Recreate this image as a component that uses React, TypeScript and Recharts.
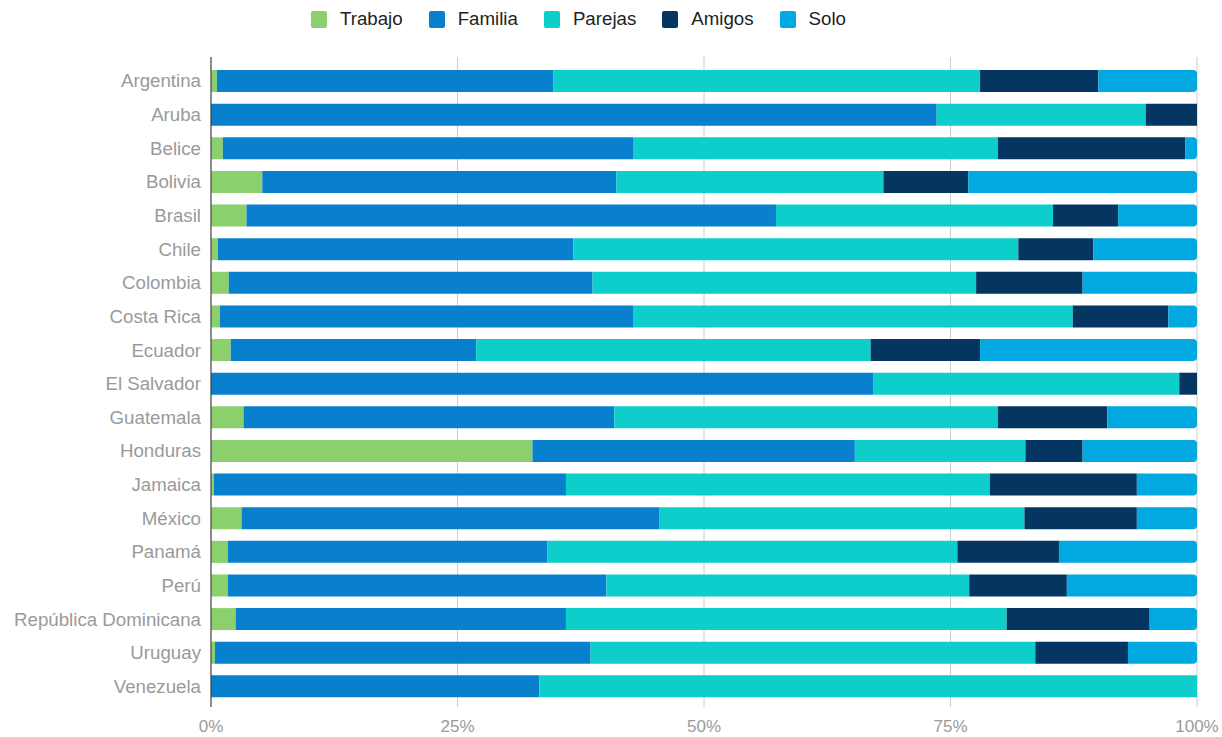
import { BarChart, Bar, XAxis, YAxis, CartesianGrid, Legend } from "recharts"

const countries = [
  "Argentina", "Aruba", "Belice", "Bolivia", "Brasil", "Chile", "Colombia", "Costa Rica",
  "Ecuador", "El Salvador", "Guatemala", "Honduras", "Jamaica", "México", "Panamá", "Perú",
  "República Dominicana", "Uruguay", "Venezuela",
]

const trabajo = [0.6, 0, 1.2, 5.2, 3.6, 0.7, 1.8, 0.9, 2.0, 0, 3.3, 32.6, 0.3, 3.1, 1.7, 1.7, 2.5, 0.4, 0]
const familia = [34.1, 73.6, 41.6, 35.9, 53.7, 36.0, 36.9, 41.9, 24.9, 67.2, 37.6, 32.7, 35.7, 42.4, 32.4, 38.4, 33.5, 38.1, 33.3]
const parejas = [43.3, 21.2, 37.0, 27.1, 28.1, 45.1, 38.9, 44.6, 40.0, 31.0, 38.9, 17.3, 43.0, 37.0, 41.6, 36.8, 44.7, 45.1, 66.7]
const amigos = [12.0, 5.2, 19.0, 8.6, 6.6, 7.6, 10.8, 9.7, 11.1, 1.8, 11.1, 5.8, 14.9, 11.4, 10.3, 9.9, 14.5, 9.4, 0]
const solo = [10.0, 0, 1.2, 23.2, 8.0, 10.5, 11.6, 2.9, 22.0, 0, 9.1, 11.6, 6.1, 6.1, 14.0, 13.2, 4.8, 7.0, 0]

const series = [
  { key: "Trabajo", color: "#8BD06C" },
  { key: "Familia", color: "#0880CE" },
  { key: "Parejas", color: "#0DCECA" },
  { key: "Amigos", color: "#053662" },
  { key: "Solo", color: "#02A9E0" },
]

const data = countries.map((name, i) => ({
  name,
  Trabajo: trabajo[i],
  Familia: familia[i],
  Parejas: parejas[i],
  Amigos: amigos[i],
  Solo: solo[i],
}))

const font = "'Liberation Sans', Arial, sans-serif"

function LegendContent() {
  return (
    <div style={{ height: 50, display: "flex", alignItems: "flex-start", paddingLeft: 311, boxSizing: "border-box" }}>
      {series.map((s) => (
        <div key={s.key} style={{ display: "flex", alignItems: "center", marginRight: 26, height: 24 }}>
          <span style={{ width: 16, height: 17, background: s.color, borderRadius: 2, display: "inline-block", marginRight: 13 }} />
          <span style={{ fontFamily: font, fontSize: 18.7, color: "#222", lineHeight: "24px" }}>{s.key}</span>
        </div>
      ))}
    </div>
  )
}

export default function App() {
  return (
    <div style={{ position: "absolute", left: 0, top: 0, width: 1222, height: 737, background: "#fff" }}>
      <BarChart
        width={1222}
        height={737}
        data={data}
        layout="vertical"
        stackOffset="expand"
        barSize={22}
        margin={{ top: 7, right: 25, left: 0, bottom: 0 }}
      >
        <CartesianGrid horizontal={false} stroke="#cccccc" />
        <XAxis
          type="number"
          domain={[0, 1]}
          ticks={[0, 0.25, 0.5, 0.75, 1]}
          tickFormatter={(v: number) => `${Math.round(v * 100)}%`}
          axisLine={false}
          tickLine={false}
          tickSize={0}
          tickMargin={13}
          height={30}
          tick={{ fill: "#9a9a9a", fontSize: 17, fontFamily: font }}
        />
        <YAxis
          type="category"
          dataKey="name"
          width={211}
          axisLine={{ stroke: "#333333" }}
          tickLine={false}
          tickSize={0}
          tickMargin={10}
          interval={0}
          padding={{ top: 7, bottom: 4 }}
          tick={{ fill: "#9a9a9a", fontSize: 18.7, fontFamily: font }}
        />
        <Legend verticalAlign="top" align="left" content={() => <LegendContent />} />
        {series.map((s) => (
          <Bar
            key={s.key}
            dataKey={s.key}
            stackId="a"
            fill={s.color}
            isAnimationActive={false}
            radius={s.key === "Solo" ? [0, 4, 4, 0] : 0}
          />
        ))}
      </BarChart>
    </div>
  )
}
